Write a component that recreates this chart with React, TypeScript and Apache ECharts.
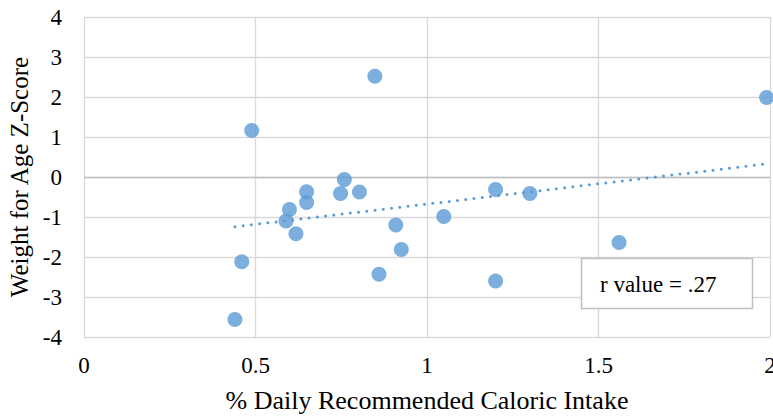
import React, { useEffect, useRef } from "react";
import * as echarts from "echarts";

const xValues = [0.489, 0.46, 0.44, 0.848, 0.759, 0.649, 0.748, 0.803, 1.2, 0.599, 0.589, 0.618, 0.649, 0.909, 0.925, 0.86, 1.049, 1.2, 1.3, 1.99, 1.56];
const yValues = [1.16, -2.12, -3.56, 2.52, -0.06, -0.37, -0.41, -0.375, -0.31, -0.81, -1.1, -1.42, -0.64, -1.2, -1.81, -2.43, -0.99, -2.6, -0.41, 1.99, -1.64];
const xTicks = ["0", "0.5", "1", "1.5", "2"];
const rLabel = "r value = .27";
const xTitle = "% Daily Recommended Caloric Intake";
const yTitle = "Weight for Age Z-Score";

const FONT = "Liberation Serif";
const BLUE = "#5b9bd5";

function regression(xs: number[], ys: number[]) {
  const n = xs.length;
  const mx = xs.reduce((a, b) => a + b, 0) / n;
  const my = ys.reduce((a, b) => a + b, 0) / n;
  let sxy = 0, sxx = 0;
  for (let i = 0; i < n; i++) {
    sxy += (xs[i] - mx) * (ys[i] - my);
    sxx += (xs[i] - mx) * (xs[i] - mx);
  }
  const slope = sxy / sxx;
  return { slope, intercept: my - slope * mx };
}

export default function App() {
  const ref = useRef<HTMLDivElement>(null);
  useEffect(() => {
    if (!ref.current) return;
    document.body.style.margin = "0";
    const chart = echarts.init(ref.current, undefined, { renderer: "svg", width: 773, height: 417 });
    const pts = xValues.map((x, i) => [x, yValues[i]]);
    const { slope, intercept } = regression(xValues, yValues);
    const xmin = Math.min(...xValues);
    const xmax = Math.max(...xValues);
    const trend = [
      [xmin, slope * xmin + intercept],
      [xmax, slope * xmax + intercept],
    ];
    chart.setOption({
      animation: false,
      textStyle: { fontFamily: FONT },
      grid: { left: 84, top: 17, right: 3, bottom: 80, containLabel: false, outerBoundsMode: "none" },
      xAxis: {
        type: "value",
        min: 0,
        max: 2,
        interval: 0.5,
        name: xTitle,
        nameLocation: "middle",
        nameGap: 50,
        nameTextStyle: { fontFamily: FONT, fontSize: 26, color: "#000" },
        axisLine: { show: false },
        axisTick: { show: false },
        axisLabel: {
          fontFamily: FONT,
          fontSize: 23,
          color: "#000",
          margin: 17,
          formatter: (v: number) => xTicks[Math.round(v / 0.5)] ?? String(v),
        },
        splitLine: { show: true, lineStyle: { color: "#d9d9d9", width: 1.3 } },
      },
      yAxis: {
        type: "value",
        min: -4,
        max: 4,
        interval: 1,
        name: yTitle,
        nameLocation: "middle",
        nameGap: 50,
        nameTextStyle: { fontFamily: FONT, fontSize: 25, color: "#000" },
        axisLine: { show: false },
        axisTick: { show: false },
        axisLabel: { fontFamily: FONT, fontSize: 23, color: "#000", margin: 22 },
        splitLine: { show: true, lineStyle: { color: "#d9d9d9", width: 1.3 } },
      },
      series: [
        {
          type: "line",
          data: trend,
          symbol: "none",
          lineStyle: { color: BLUE, width: 3, type: [0, 8.3], cap: "round" },
          z: 3,
          markLine: {
            silent: true,
            symbol: "none",
            label: { show: false },
            lineStyle: { color: "#bfbfbf", width: 1.3, type: "solid" },
            data: [{ yAxis: 0 }],
            z: 1,
          },
        },
        {
          type: "scatter",
          data: pts,
          symbol: "circle",
          symbolSize: 15,
          itemStyle: { color: BLUE },
          z: 4,
        },
      ],
      graphic: [
        {
          type: "rect",
          shape: { x: 581.5, y: 258.5, width: 171, height: 50 },
          style: { fill: "#fff", stroke: "#bfbfbf", lineWidth: 1.5 },
          z: 10,
        },
        {
          type: "text",
          x: 600,
          y: 284,
          style: {
            text: rLabel,
            fontFamily: FONT,
            fontSize: 23,
            fill: "#000",
            verticalAlign: "middle",
            align: "left",
          },
          z: 11,
        },
      ],
    });
    return () => chart.dispose();
  }, []);
  return (
    <div
      ref={ref}
      style={{ position: "fixed", left: 0, top: 0, width: 773, height: 417, background: "#fff" }}
    />
  );
}
